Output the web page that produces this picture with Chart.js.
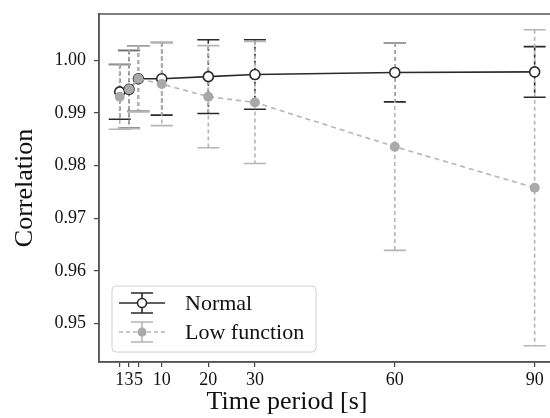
<!DOCTYPE html>
<html>
<head>
<meta charset="utf-8">
<script src="https://cdn.jsdelivr.net/npm/chart.js@4.4.1/dist/chart.umd.min.js"></script>
<style>
  html, body { margin: 0; padding: 0; background: #fff; overflow: hidden; }
  #wrap { width: 562px; height: 418px; position: relative; }
</style>
</head>
<body>
<div id="wrap"><canvas id="myChart"></canvas></div>
<script>
// time periods in seconds
var periods = [1, 3, 5, 10, 20, 30, 60, 90];
var xTicks = [1, 3, 5, 10, 20, 30, 60, 90];
var yTicks = [0.95, 0.96, 0.97, 0.98, 0.99, 1.00];

var normalMean = [0.9940, 0.9945, 0.9965, 0.9965, 0.9969, 0.9973, 0.9977, 0.9978];
var normalErr  = [0.0052, 0.0074, 0.0062, 0.0069, 0.0070, 0.0066, 0.0056, 0.0048];
var lowMean    = [0.9931, 0.9945, 0.9965, 0.9955, 0.9931, 0.9920, 0.9836, 0.9758];
var lowErr     = [0.0062, 0.0075, 0.0062, 0.0079, 0.0097, 0.0116, 0.0197, 0.0300];

var serif = "'Liberation Serif', 'DejaVu Serif', serif";
var dark = '#2a2a2a';
var grey = '#b5b5b5';
var greyDot = '#a9a9a9';

function toPoints(xs, ys) {
    return xs.map(function (x, i) { return {x: x, y: ys[i]}; });
}

// error bars, frame, titles and legend
var extras = {
    id: 'extras',
    beforeDatasetsDraw: function (chart) {
        var ctx = chart.ctx;
        var xs = chart.scales.x, ys = chart.scales.y;
        var sets = [
            {mean: normalMean, err: normalErr, color: dark, width: 1.6},
            {mean: lowMean, err: lowErr, color: grey, width: 1.6}
        ];
        ctx.save();
        sets.forEach(function (s) {
            ctx.strokeStyle = s.color;
            ctx.lineWidth = s.width;
            periods.forEach(function (p, i) {
                var px = xs.getPixelForValue(p);
                var top = ys.getPixelForValue(s.mean[i] + s.err[i]);
                var bot = ys.getPixelForValue(s.mean[i] - s.err[i]);
                ctx.setLineDash([4, 3]);
                ctx.beginPath();
                ctx.moveTo(px, top);
                ctx.lineTo(px, bot);
                ctx.stroke();
                ctx.setLineDash([]);
                ctx.beginPath();
                ctx.moveTo(px - 11, top); ctx.lineTo(px + 11, top);
                ctx.moveTo(px - 11, bot); ctx.lineTo(px + 11, bot);
                ctx.stroke();
            });
        });
        ctx.restore();
    },
    afterDraw: function (chart) {
        var ctx = chart.ctx;
        var a = chart.chartArea;
        ctx.save();
        // frame
        ctx.strokeStyle = '#555';
        ctx.lineWidth = 1.5;
        ctx.strokeRect(a.left, a.top, a.right - a.left, a.bottom - a.top);

        // axis titles
        ctx.fillStyle = '#111';
        ctx.font = '26px ' + serif;
        ctx.textAlign = 'center';
        ctx.textBaseline = 'middle';
        ctx.fillText('Time period [s]', 287, 402);
        ctx.save();
        ctx.translate(25, (a.top + a.bottom) / 2);
        ctx.rotate(-Math.PI / 2);
        ctx.fillText('Correlation', 0, 0);
        ctx.restore();

        // legend
        var lx = 112, ly = 286, lw = 204, lh = 66;
        ctx.fillStyle = 'rgba(255,255,255,0.85)';
        ctx.strokeStyle = '#d0d0d0';
        ctx.lineWidth = 1;
        ctx.beginPath();
        ctx.roundRect(lx, ly, lw, lh, 4);
        ctx.fill();
        ctx.stroke();

        var cx = 142;
        var rows = [
            {y: 303, color: dark, dash: [], dot: '#fff', label: 'Normal'},
            {y: 332, color: grey, dash: [4, 3], dot: greyDot, label: 'Low function'}
        ];
        rows.forEach(function (r) {
            ctx.strokeStyle = r.color;
            ctx.lineWidth = 1.6;
            ctx.setLineDash(r.dash);
            ctx.beginPath();
            ctx.moveTo(cx - 23, r.y); ctx.lineTo(cx + 23, r.y);
            ctx.stroke();
            ctx.setLineDash([]);
            ctx.beginPath();
            ctx.moveTo(cx, r.y - 10); ctx.lineTo(cx, r.y + 10);
            ctx.moveTo(cx - 11, r.y - 10); ctx.lineTo(cx + 11, r.y - 10);
            ctx.moveTo(cx - 11, r.y + 10); ctx.lineTo(cx + 11, r.y + 10);
            ctx.stroke();
            ctx.beginPath();
            ctx.arc(cx, r.y, 4.5, 0, Math.PI * 2);
            ctx.fillStyle = r.dot;
            ctx.fill();
            if (r.dot === '#fff') {
                ctx.strokeStyle = r.color;
                ctx.stroke();
            }
            ctx.fillStyle = '#111';
            ctx.font = '22px ' + serif;
            ctx.textAlign = 'left';
            ctx.textBaseline = 'middle';
            ctx.fillText(r.label, 185, r.y + 1);
        });
        ctx.restore();
    }
};

var ctx = document.getElementById('myChart').getContext('2d');
var myChart = new Chart(ctx, {
    type: 'line',
    data: {
        datasets: [
            {
                label: 'Normal',
                data: toPoints(periods, normalMean),
                borderColor: dark,
                borderWidth: 1.6,
                pointRadius: 5,
                pointBorderWidth: 1.6,
                pointBackgroundColor: '#fff',
                pointBorderColor: dark,
                tension: 0,
                order: 2
            },
            {
                label: 'Low function',
                data: toPoints(periods, lowMean),
                borderColor: grey,
                borderWidth: 1.6,
                borderDash: [5, 4],
                pointRadius: 5,
                pointBorderWidth: 0,
                pointBackgroundColor: greyDot,
                pointBorderColor: greyDot,
                tension: 0,
                order: 1
            }
        ]
    },
    options: {
        responsive: true,
        maintainAspectRatio: false,
        animation: false,
        layout: { padding: { top: 14, right: 3, left: 0, bottom: 0 } },
        plugins: {
            legend: { display: false },
            tooltip: { enabled: false }
        },
        scales: {
            x: {
                type: 'linear',
                min: -3.45,
                max: 94.45,
                afterBuildTicks: function (scale) {
                    scale.ticks = xTicks.map(function (v) { return {value: v}; });
                },
                afterFit: function (scale) {
                    scale.height = 56;
                    scale.paddingLeft = 0;
                    scale.paddingRight = 0;
                },
                grid: { drawOnChartArea: false, drawTicks: true, tickLength: 5, color: '#444', lineWidth: 1.2 },
                border: { display: true, color: '#555', width: 1.5 },
                ticks: {
                    autoSkip: false,
                    maxRotation: 0,
                    padding: 2,
                    color: '#111',
                    font: { family: serif, size: 18 },
                    callback: function (v) { return String(v); }
                }
            },
            y: {
                type: 'linear',
                min: 0.9427,
                max: 1.0088,
                afterBuildTicks: function (scale) {
                    scale.ticks = yTicks.map(function (v) { return {value: v}; });
                },
                afterFit: function (scale) {
                    scale.width = 99;
                    scale.paddingTop = 0;
                    scale.paddingBottom = 0;
                },
                grid: { drawOnChartArea: false, drawTicks: true, tickLength: 5, color: '#444', lineWidth: 1.2 },
                border: { display: true, color: '#555', width: 1.5 },
                ticks: {
                    padding: 8,
                    color: '#111',
                    font: { family: serif, size: 18 },
                    callback: function (v) { return v.toFixed(2); }
                }
            }
        }
    },
    plugins: [extras]
});
</script>
</body>
</html>
